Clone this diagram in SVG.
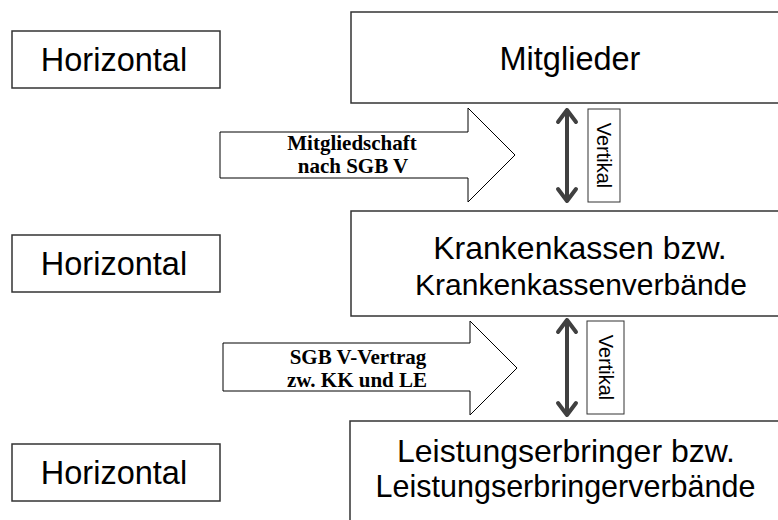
<svg xmlns="http://www.w3.org/2000/svg" width="778" height="520" viewBox="0 0 778 520">
<style>
.box{fill:#fff;stroke:#333;stroke-width:1.5}
.main{font-family:"Liberation Sans",Arial,sans-serif;font-size:30.5px;fill:#000;text-anchor:middle}
.l1{font-size:32px}
.kk2{font-size:30px}
.big{font-size:32.5px}
.hz{font-family:"Liberation Sans",Arial,sans-serif;font-size:32.5px;fill:#000;text-anchor:middle}
.vt{font-family:"Liberation Sans",Arial,sans-serif;font-size:20px;fill:#000;text-anchor:middle}
.vbox{fill:#fff;stroke:#333;stroke-width:1}
.bigarrow{fill:#fff;stroke:#000;stroke-width:1}
.atext{font-family:"Liberation Serif","Times New Roman",serif;font-weight:bold;font-size:21px;fill:#000;text-anchor:middle}
.vshaft{fill:none;stroke:#404040;stroke-width:4;stroke-linecap:round;stroke-linejoin:round}
</style>
<rect width="778" height="520" fill="#fff"/>
<g id="h1"><rect class="box" x="12" y="31" width="208" height="57"/><text class="hz" x="114" y="71">Horizontal</text></g>
<g id="h2"><rect class="box" x="12" y="235" width="208" height="57"/><text class="hz" x="114" y="275">Horizontal</text></g>
<g id="h3"><rect class="box" x="12" y="444" width="208" height="57"/><text class="hz" x="114" y="484">Horizontal</text></g>
<g id="mitglieder"><rect class="box" x="351" y="12" width="440" height="91"/><text class="main big" x="570" y="70">Mitglieder</text></g>
<g id="krankenkassen"><rect class="box" x="351" y="211" width="440" height="105"/><text class="main l1" x="580" y="259">Krankenkassen bzw.</text><text class="main kk2" x="581" y="295">Krankenkassenverbände</text></g>
<g id="leistungserbringer"><rect class="box" x="350" y="421" width="440" height="110"/><text class="main l1" x="566" y="462">Leistungserbringer bzw.</text><text class="main" x="565.5" y="497">Leistungserbringerverbände</text></g>
<g id="arrow1"><polygon class="bigarrow" points="220,132 468,132 468,108 515,155 468,202 468,178 220,178"/><text class="atext" x="352" y="150">Mitgliedschaft</text><text class="atext" x="353" y="173">nach SGB V</text></g>
<g id="arrow2"><polygon class="bigarrow" points="223,343 470,343 470,321 517,368 470,415 470,391 223,391"/><text class="atext" x="358" y="364">SGB V-Vertrag</text><text class="atext" x="357" y="387">zw. KK und LE</text></g>
<g id="vertikal1"><rect class="vbox" x="588" y="109" width="32" height="93"/><text class="vt" transform="translate(604,155.5) rotate(90)" y="7">Vertikal</text></g>
<g id="vertikal2"><rect class="vbox" x="587" y="321" width="37" height="93"/><text class="vt" transform="translate(605.5,367.5) rotate(90)" y="7">Vertikal</text></g>
<g id="connectors">
<path class="vshaft" d="M567,110 V201 M558,122 L567,110 L576,122 M558,189 L567,201 L576,189"/>
<path class="vshaft" d="M567,320 V415 M558,332 L567,320 L576,332 M558,403 L567,415 L576,403"/>
</g>
</svg>
